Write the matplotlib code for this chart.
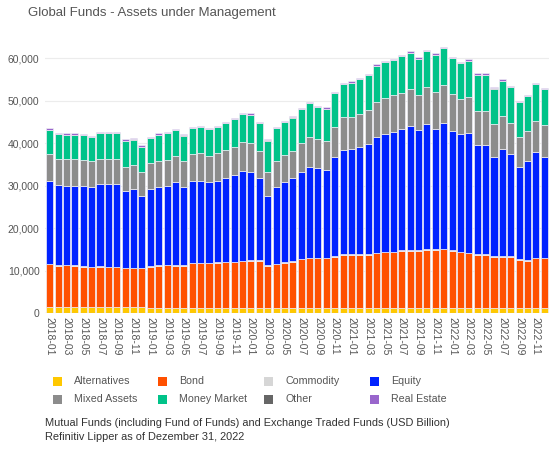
import matplotlib
matplotlib.use("Agg")
import matplotlib.pyplot as plt
from matplotlib.patches import Rectangle
import numpy as np

plt.rcParams['font.family'] = ['Liberation Sans', 'DejaVu Sans']

months = [f"{y}-{m:02d}" for y in range(2018, 2023) for m in range(1, 13)]

# values in USD billion
alternatives = [1400]*12 + [1350]*12 + [1300]*12 + [1250]*12 + [1200]*12
bond = [10100, 9800, 9850, 9800, 9550, 9400, 9550, 9400, 9400, 9250, 9200, 9200,
        9600, 9850, 9900, 9850, 9850, 10400, 10400, 10400, 10550, 10650, 10650, 10950,
        11000, 11000, 9900, 10200, 10600, 10750, 11400, 11600, 11600, 11600, 12000, 12400,
        12450, 12450, 12450, 12850, 13100, 13100, 13400, 13400, 13400, 13650, 13650, 13800,
        13450, 13150, 12900, 12500, 12500, 12000, 12100, 12000, 11300, 11200, 11700, 11700]
commodity = [120]*24 + [180]*36
equity = [19500, 18900, 18600, 18700, 18900, 18800, 19300, 19500, 19500, 18100, 18500, 16900,
          18200, 18300, 18600, 19500, 18500, 19300, 19300, 19100, 19200, 19800, 20400, 21100,
          20800, 19300, 16300, 18000, 18900, 19600, 20400, 21400, 21000, 20600, 23200, 24500,
          24700, 25300, 25900, 27100, 27600, 28200, 28500, 29300, 28200, 29400, 28400, 29600,
          28100, 27600, 28200, 25700, 25700, 23500, 25200, 24100, 21800, 23200, 24800, 23800]
mixed_assets = [6400, 6100, 6250, 6200, 6150, 6100, 5950, 5900, 5900, 5650, 5600, 5600,
                6050, 6250, 6200, 6200, 6000, 6400, 6600, 6100, 6400, 6500, 6600, 6700,
                6700, 6400, 5500, 6150, 6200, 6400, 6700, 7050, 6900, 6800, 7200, 7700,
                7700, 7700, 8000, 8400, 8500, 8700, 8600, 8600, 8400, 8700, 8600, 8850,
                8600, 8300, 8500, 8000, 8000, 7650, 7700, 7400, 6900, 7200, 7400, 7450]
money_market = [5650, 5850, 5800, 5800, 5750, 5650, 6000, 6050, 6050, 6050, 6050, 5950,
                5900, 6150, 6150, 6000, 6000, 6000, 6050, 6300, 6200, 6300, 6500, 6650,
                6700, 6600, 7450, 7700, 7750, 7800, 8050, 7900, 7500, 7650, 7850, 7850,
                7950, 8150, 8250, 8450, 8450, 8150, 8550, 8550, 8450, 8450, 8750, 8650,
                8550, 8450, 8450, 8550, 8550, 8350, 8350, 8350, 8250, 8150, 8650, 8450]
other = [50]*60
real_estate = [300]*60

series = [
    ("Alternatives", alternatives, "#FFC800"),
    ("Bond", bond, "#FF5000"),
    ("Commodity", commodity, "#D6D6D6"),
    ("Equity", equity, "#0022FF"),
    ("Mixed Assets", mixed_assets, "#8C8C8C"),
    ("Money Market", money_market, "#00C389"),
    ("Other", other, "#666666"),
    ("Real Estate", real_estate, "#9966CC"),
]

fig = plt.figure(figsize=(5.5, 4.53), dpi=100)
ax = fig.add_axes([0.082, 0.3084, 0.916, 0.6097])

x = np.arange(len(months))
bottom = np.zeros(len(months))
for name, vals, col in series:
    v = np.array(vals, dtype=float)
    ax.bar(x, v, bottom=bottom, width=0.84, color=col, edgecolor="#f0eef5",
           linewidth=0.5, zorder=3)
    bottom += v

ax.set_xlim(-0.55, len(months) - 0.45)
ax.set_ylim(0, 65000)
ax.set_yticks(range(0, 60001, 10000))
ax.set_yticklabels([f"{v:,}" for v in range(0, 60001, 10000)], fontsize=7.5, color="#555555")
ax.yaxis.grid(True, color="#ececec", linewidth=0.8, zorder=0)
ax.axhline(0, color="#bbbbbb", linewidth=0.8, zorder=4)
ax.set_xticks(x[::2])
ax.set_xticklabels(months[::2], rotation=270, fontsize=7.5, color="#555555")
ax.tick_params(axis="y", length=0, pad=4)
ax.tick_params(axis="x", length=0, pad=3)
for s in ax.spines.values():
    s.set_visible(False)

fig.text(0.051, 0.972, "Global Funds - Assets under Management", fontsize=9.5,
         color="#555555", va="center", ha="left")

# legend
col_x = [53, 158, 264, 370]
row_y = [381.5, 399]
W, H = 550.0, 453.0
for i, (name, vals, col) in enumerate(series):
    r, c = divmod(i, 4)
    x0 = col_x[c]
    y0 = row_y[r]
    fig.patches.append(Rectangle((x0 / W, 1 - (y0 + 4.5) / H), 9 / W, 9 / H,
                                 transform=fig.transFigure, facecolor=col,
                                 edgecolor="none"))
    fig.text((x0 + 21) / W, 1 - y0 / H, name, fontsize=7.7, color="#555555",
             va="center", ha="left")

fig.text(45 / W, 1 - 423 / H,
         "Mutual Funds (including Fund of Funds) and Exchange Traded Funds (USD Billion)",
         fontsize=7.9, color="#333333", va="center", ha="left")
fig.text(45 / W, 1 - 437.5 / H, "Refinitiv Lipper as of Dezember 31, 2022",
         fontsize=7.9, color="#333333", va="center", ha="left")

fig.savefig("out.png", dpi=100)
